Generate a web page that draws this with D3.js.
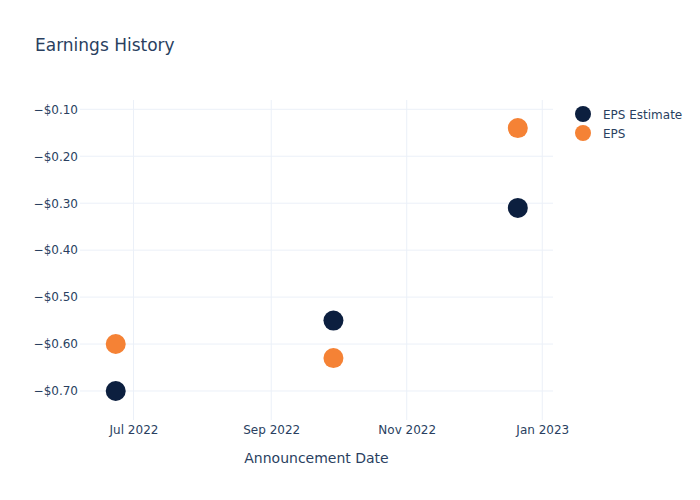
<!DOCTYPE html>
<html>
<head>
<meta charset="utf-8">
<script src="https://cdn.jsdelivr.net/npm/d3@7"></script>
<style>
  body { margin: 0; background: #fff; }
  svg { font-family: "DejaVu Sans", sans-serif; }
</style>
</head>
<body>
<svg id="chart" width="700" height="500"></svg>
<script>
const dates = ["2022-06-23", "2022-09-29", "2022-12-21"];
const epsEstimate = [-0.70, -0.55, -0.31];
const eps = [-0.60, -0.63, -0.14];
const seriesNames = ["EPS Estimate", "EPS"];
const seriesColors = ["#0c1f3f", "#f58235"];
const yTicks = [-0.10, -0.20, -0.30, -0.40, -0.50, -0.60, -0.70];
const xTicks = ["2022-07-01", "2022-09-01", "2022-11-01", "2023-01-01"];

const svg = d3.select("#chart");
const W = 700, H = 500;
const m = { l: 80, r: 147, t: 100, b: 80 };
const pw = W - m.l - m.r, ph = H - m.t - m.b;
const parse = d3.utcParse("%Y-%m-%d");
const FONT = '"DejaVu Sans", sans-serif';

const x = d3.scaleUtc()
  .domain([new Date(Date.UTC(2022, 5, 6, 22)), new Date(Date.UTC(2023, 0, 5, 20))])
  .range([m.l, m.l + pw]);
const y = d3.scaleLinear().domain([-0.7618, -0.0802]).range([m.t + ph, m.t]);

const textColor = "#2a3f5f";
const gridColor = "#ebf0f8";

// grid
svg.append("g").selectAll("line").data(yTicks).join("line")
  .attr("x1", m.l).attr("x2", m.l + pw)
  .attr("y1", d => y(d)).attr("y2", d => y(d))
  .attr("stroke", gridColor).attr("stroke-width", 1);
svg.append("g").selectAll("line").data(xTicks.map(parse)).join("line")
  .attr("x1", d => x(d)).attr("x2", d => x(d))
  .attr("y1", m.t).attr("y2", m.t + ph)
  .attr("stroke", gridColor).attr("stroke-width", 1);

// y axis
const fmtY = d => (d < 0 ? "\u2212" : "") + "$" + Math.abs(d).toFixed(2);
const yAxis = svg.append("g").attr("transform", `translate(${m.l},0)`)
  .call(d3.axisLeft(y).tickValues(yTicks).tickFormat(fmtY).tickSize(0).tickPadding(2));
yAxis.select(".domain").remove();
yAxis.selectAll("text").attr("fill", textColor).style("font-size", "12px")
  .style("font-family", FONT);

// x axis
const xAxis = svg.append("g").attr("transform", `translate(0,${m.t + ph})`)
  .call(d3.axisBottom(x).tickValues(xTicks.map(parse)).tickFormat(d3.utcFormat("%b %Y")).tickSize(0).tickPadding(5));
xAxis.select(".domain").remove();
xAxis.selectAll("text").attr("fill", textColor).style("font-size", "12px")
  .style("font-family", FONT);

// axis title
svg.append("text").attr("x", m.l + pw / 2).attr("y", 463)
  .attr("text-anchor", "middle").attr("fill", textColor).style("font-size", "14px")
  .text("Announcement Date");

// title
svg.append("text").attr("x", 35).attr("y", 51)
  .attr("fill", textColor).style("font-size", "17px").text("Earnings History");

// points
const series = [epsEstimate, eps];
series.forEach((vals, si) => {
  svg.append("g").selectAll("circle").data(vals).join("circle")
    .attr("cx", (d, i) => x(parse(dates[i])))
    .attr("cy", d => y(d))
    .attr("r", 10)
    .attr("fill", seriesColors[si]);
});

// legend
const leg = svg.append("g");
seriesNames.forEach((n, i) => {
  const ly = 114 + i * 19;
  leg.append("circle").attr("cx", 583).attr("cy", ly).attr("r", 8).attr("fill", seriesColors[i]);
  leg.append("text").attr("x", 603).attr("y", ly + 5).attr("fill", textColor)
    .style("font-size", "12px").text(n);
});
</script>
</body>
</html>
